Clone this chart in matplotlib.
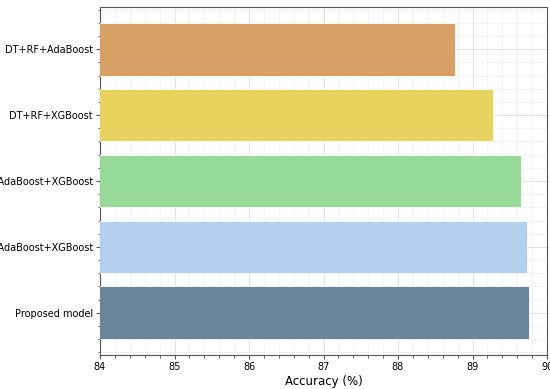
import numpy as np
import matplotlib.pyplot as plt

models = ["Proposed model", "RF+AdaBoost+XGBoost", "DT+AdaBoost+XGBoost",
          "DT+RF+XGBoost", "DT+RF+AdaBoost"]
accuracy = [89.76, 89.73, 89.65, 89.28, 88.76]
colors = ["#6a849b", "#b3d1ee", "#96d998", "#e8d35e", "#d9a066"]

fig = plt.figure(figsize=(5.5, 3.89), dpi=100)
ax = fig.add_axes([100/550, 1 - 355/389, 447/550, 348/389])

y = np.arange(len(models))
ax.barh(y, accuracy, height=0.8, color=colors, edgecolor="white", linewidth=0.6, zorder=3)
ax.set_yticks(y)
ax.set_yticklabels(models, fontsize=7)
ax.set_xlim(84, 90)
ax.tick_params(axis="x", labelsize=7)
ax.minorticks_on()
ax.tick_params(which="major", length=3, pad=2, color="#555555")
ax.tick_params(which="minor", length=1.8, color="#555555")
ax.grid(which="major", color="#dddddd", linewidth=0.6, zorder=0)
ax.grid(which="minor", color="#eeeeee", linewidth=0.5, zorder=0)
ax.set_xlabel("Accuracy (%)", fontsize=8.5, labelpad=2)
for s in ax.spines.values():
    s.set_color("#555555")

fig.savefig("out.png", dpi=100)
